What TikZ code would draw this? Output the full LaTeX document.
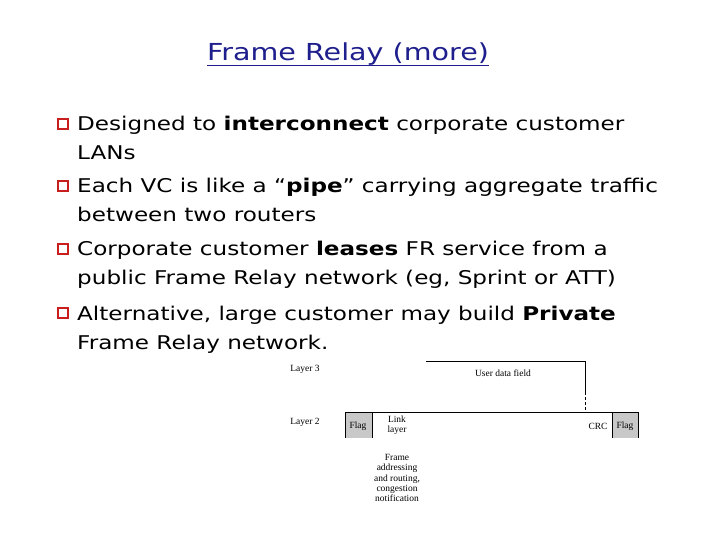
\documentclass[tikz,border=0pt]{standalone}
\usepackage{fontspec}
\setmainfont{DejaVu Sans}[FakeStretch=1.22]
\newfontfamily\smallserif{Liberation Serif}
\definecolor{titleblue}{RGB}{30,30,140}
\definecolor{bulletred}{RGB}{200,30,30}
\definecolor{flaggrey}{RGB}{200,200,200}
\begin{document}
\begin{tikzpicture}[x=1bp,y=-1bp,
  bul/.style={draw=bulletred,line width=1.2bp,minimum size=10bp,inner sep=0pt},
  txt/.style={anchor=base west,inner sep=0pt,font=\fontsize{19}{21}\selectfont},
  lbl/.style={inner sep=0pt,font=\smallserif\fontsize{9.5}{10.5}\selectfont,align=center},
  ln/.style={line width=0.8bp}]
\useasboundingbox (0,0) rectangle (720,540);
\node[inner sep=0pt,anchor=base,font=\fontsize{23.5}{25}\selectfont,text=titleblue] (title) at (348,61) {Frame Relay (more)};
\draw[titleblue,line width=0.9bp] ([yshift=-4bp]title.base west) -- ([yshift=-4bp]title.base east);
\foreach \y/\n in {125/b1,187/b2,250/b3,314/b4}{\node[bul] (\n) at (63,\y-1) {};}
\node[txt] (t1) at (77,131) {Designed to \textbf{interconnect} corporate customer};
\node[txt] (t1b) at (77,160) {LANs};
\node[txt] (t2) at (77,193) {Each VC is like a “\textbf{pipe}” carrying aggregate traffic};
\node[txt] (t2b) at (77,222) {between two routers};
\node[txt] (t3) at (77,256) {Corporate customer \textbf{leases} FR service from a};
\node[txt] (t3b) at (77,285) {public Frame Relay network (eg, Sprint or ATT)};
\node[txt] (t4) at (77,320) {Alternative, large customer may build \textbf{Private}};
\node[txt] (t4b) at (77,349) {Frame Relay network.};
% frame diagram
\fill[flaggrey] (345,412) rectangle (372,438);
\fill[flaggrey] (612,412) rectangle (638,438);
\draw[ln] (345,438) -- (345,412) -- (638,412) -- (638,438);
\draw[ln] (372,412) -- (372,438);
\draw[ln] (612,412) -- (612,438);
\draw[ln] (426,361) -- (585,361) -- (585,392);
\draw[ln,densely dashed] (585,392) -- (585,412);
\node[lbl] (l3) at (305,369) {Layer 3};
\node[lbl] (l2) at (305,422) {Layer 2};
\node[lbl] (ud) at (503,373) {User data field};
\node[lbl] (f1) at (358,426) {Flag};
\node[lbl] (f2) at (625,426) {Flag};
\node[lbl] (crc) at (598,426) {CRC};
\node[lbl] (ll) at (397,425) {Link\\layer};
\node[lbl] (fa) at (397,478) {Frame\\addressing\\and routing,\\congestion\\notification};
\end{tikzpicture}
\end{document}
